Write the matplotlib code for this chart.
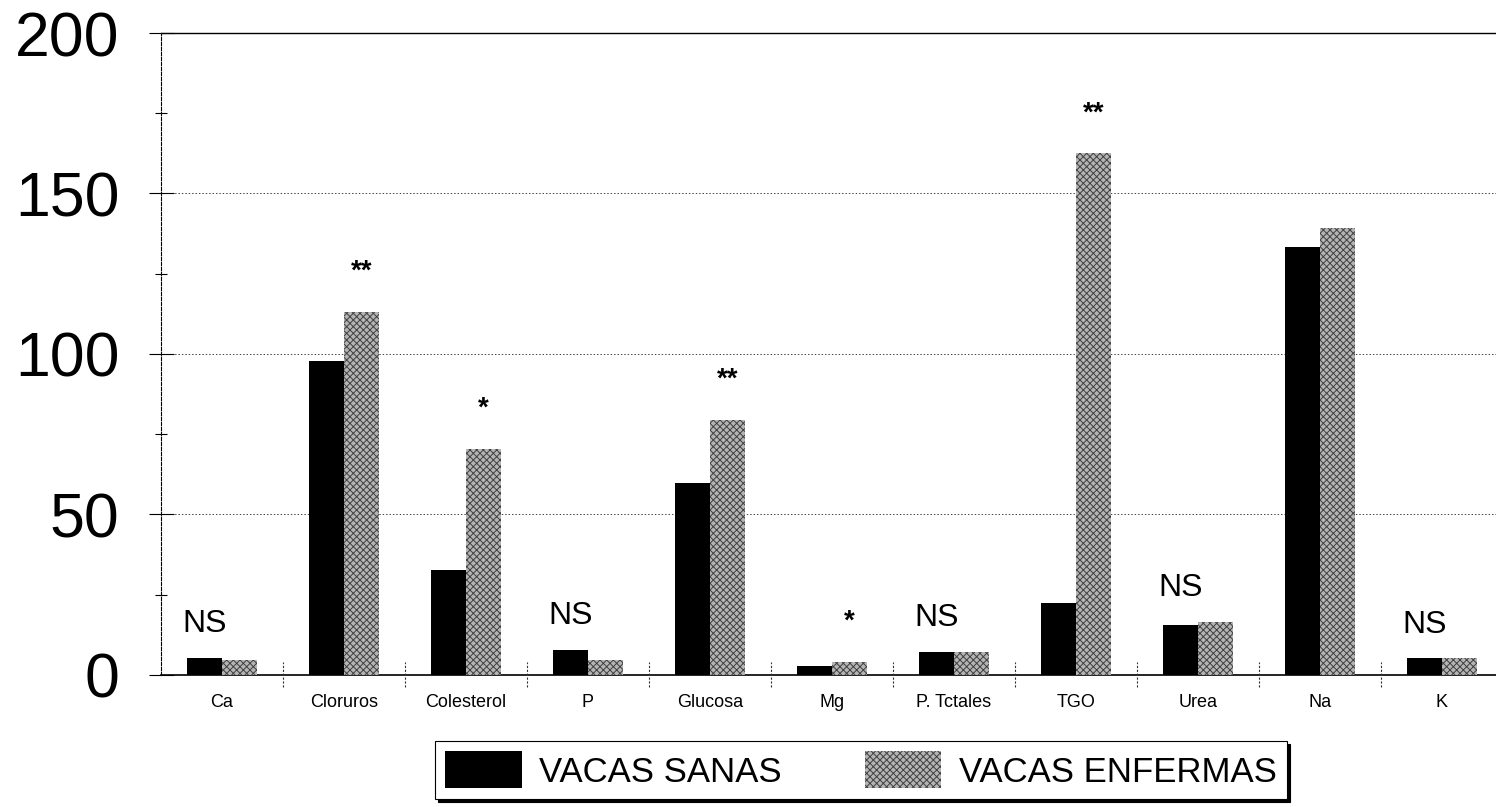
import numpy as np
import matplotlib
matplotlib.use("Agg")
import matplotlib.pyplot as plt
from matplotlib.patches import Patch

plt.rcParams['font.family'] = ['Liberation Sans', 'DejaVu Sans']
plt.rcParams['hatch.linewidth'] = 0.7

# Parámetros sanguíneos, vacas sanas vs enfermas
categorias = ["Ca", "Cloruros", "Colesterol", "P", "Glucosa", "Mg",
              "P. Tctales", "TGO", "Urea", "Na", "K"]
sanas = [5.3, 97.8, 32.7, 7.8, 59.8, 2.7, 7.1, 22.4, 15.6, 133.4, 5.2]
enfermas = [4.8, 113.2, 70.5, 4.6, 79.4, 4.0, 7.1, 162.5, 16.6, 139.1, 5.2]
signif = ["NS", "**", "*", "NS", "**", "*", "NS", "**", "NS", "", "NS"]

x = np.arange(len(categorias))
w = 0.287
gris = "#b4b4b4"

fig = plt.figure(figsize=(14.96, 8.07), dpi=100)
ax = fig.add_axes([0.1076, 0.1636, 0.8924, 0.7955])

ax.bar(x - w / 2, sanas, w, color="black", linewidth=0, zorder=3)
ax.bar(x + w / 2, enfermas, w, color=gris, edgecolor="#404040",
       hatch="xxxxx", linewidth=0, zorder=3)

# marcas de significancia
for i, s in enumerate(signif):
    if s == "NS":
        ax.text(x[i] - w / 2, max(sanas[i], enfermas[i]) + 10.5, s,
                ha="center", va="center", fontsize=23)
    elif s:
        ax.text(x[i] + w / 2, enfermas[i] + 12.5, s,
                ha="center", va="center", fontsize=20, fontweight="bold")

ax.set_xlim(-0.5, -0.5 + 1335 / 122)
ax.set_ylim(0, 200)

ax.set_yticks([0, 50, 100, 150, 200])
ax.set_yticklabels(["0", "50", "100", "150", "200"], fontsize=45)
ax.set_yticks([25, 75, 125, 175], minor=True)
ax.tick_params(axis="y", which="major", direction="inout", length=18,
               width=0.8, pad=21)
ax.tick_params(axis="y", which="minor", direction="inout", length=8,
               width=0.8)

ax.set_xticks(x)
ax.set_xticklabels(categorias, fontsize=13)
ax.tick_params(axis="x", length=0, pad=14)

# líneas de guía punteadas
for yv in [50, 100, 150]:
    ax.axhline(yv, color="#444444", linestyle=(0, (1.5, 2)), linewidth=0.7,
               zorder=1)

# separadores de categoría sobre el eje
for xs in x[1:] - 0.5:
    ax.plot([xs, xs], [-3.8, 4], color="#333333", linestyle=(0, (2, 1.5)),
            linewidth=0.8, clip_on=False, zorder=4)

ax.spines["right"].set_visible(False)
ax.spines["left"].set_linestyle((0, (3, 1.5)))
ax.spines["left"].set_linewidth(0.8)
ax.spines["top"].set_linestyle((0, (6, 1)))
ax.spines["top"].set_linewidth(1.0)
ax.spines["bottom"].set_linewidth(1.2)

handles = [Patch(facecolor="black", label="VACAS SANAS"),
           Patch(facecolor=gris, edgecolor="#404040", hatch="xxxxx",
                 linewidth=0, label="VACAS ENFERMAS")]
leg = fig.legend(handles=handles, ncol=2, loc="center",
                 bbox_to_anchor=(435 / 1496, 1 - 803 / 807, 852 / 1496, 66 / 807),
                 mode="expand", fontsize=25, frameon=True, fancybox=False,
                 shadow={"color": "black", "alpha": 1.0},
                 handlelength=2.2, handleheight=1.25, columnspacing=1.0,
                 handletextpad=0.5, borderpad=0.3, borderaxespad=0)
leg.get_frame().set_edgecolor("black")
leg.get_frame().set_linewidth(0.8)

fig.savefig("out.png", dpi=100)
